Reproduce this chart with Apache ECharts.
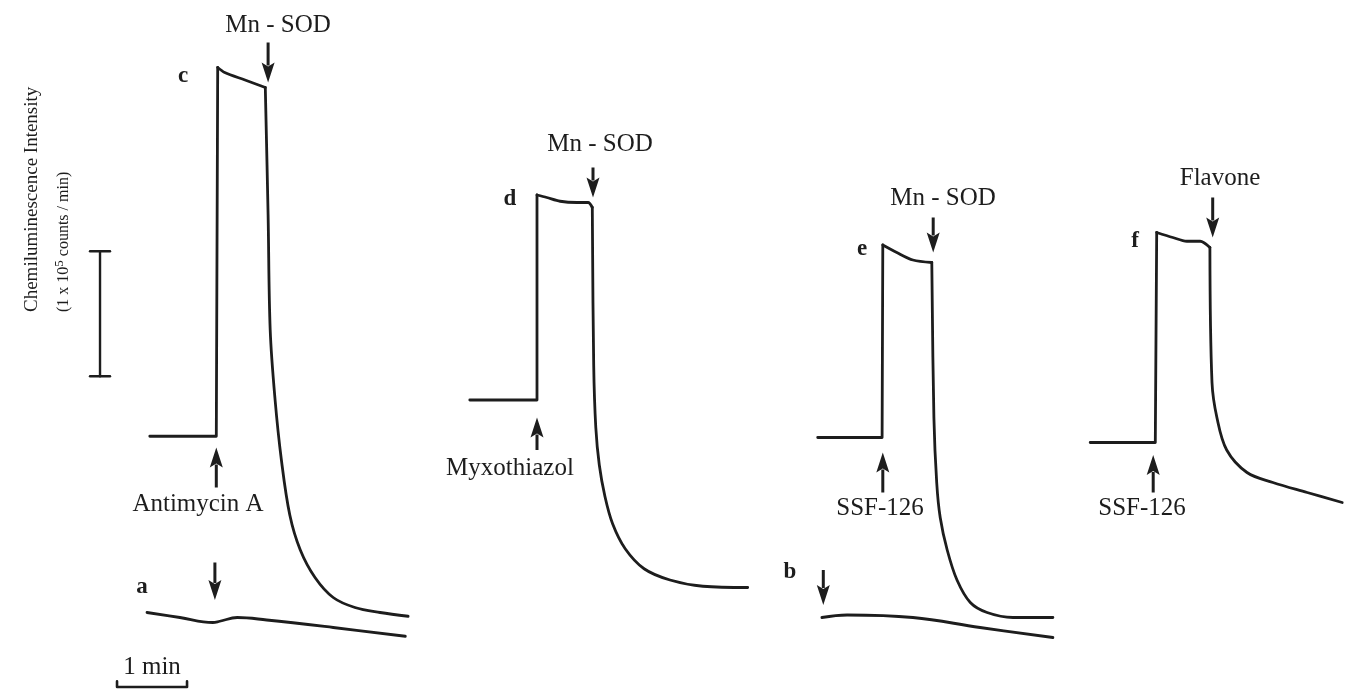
<!DOCTYPE html>
<html><head><meta charset="utf-8">
<script src="https://cdn.jsdelivr.net/npm/echarts@6.0.0/dist/echarts.min.js"></script>
<style>html,body{margin:0;padding:0;background:#fff}#chart{width:1352px;height:693px}</style>
</head><body><div id="chart"></div>
<script>
// ---- DATA (time in min, intensity in 1e5 counts/min, relative offsets per trace) ----
const traceC_time  = [0.14,1.09,1.11,1.21,1.50,1.79,1.83,1.86,1.93,2.02,2.14,2.29,2.50,2.76,3.07,3.43,3.83];
const traceC_value = [2.03,2.03,4.98,4.94,4.88,4.82,3.80,2.88,2.32,1.84,1.40,1.12,0.90,0.74,0.66,0.62,0.59];
const traceA_time  = [0.10,0.57,1.04,1.14,1.39,1.81,2.76,3.79];
const traceA_value = [0.62,0.58,0.54,0.55,0.58,0.56,0.50,0.43];
const traceD_time  = [0.14,1.10,1.10,1.24,1.43,1.67,1.83,1.89,1.91,1.94,1.99,2.07,2.18,2.36,2.63,3.00,3.47,4.11];
const traceD_value = [2.32,2.32,3.96,3.94,3.91,3.90,3.90,3.86,2.60,2.10,1.80,1.55,1.33,1.13,0.97,0.88,0.83,0.82];
const traceE_time  = [0.11,1.03,1.04,1.24,1.47,1.74,1.77,1.81,1.86,1.96,2.10,2.29,2.53,2.90,3.47];
const traceE_value = [2.02,2.02,3.56,3.50,3.44,3.42,2.18,1.66,1.38,1.12,0.88,0.70,0.62,0.58,0.58];
const traceB_time  = [0.17,0.53,1.47,2.43,3.47];
const traceB_value = [0.58,0.60,0.58,0.50,0.42];
const traceF_time  = [0.26,1.19,1.21,1.44,1.64,1.83,1.97,2.00,2.07,2.21,2.50,2.87,3.36,3.86];
const traceF_value = [1.98,1.98,3.66,3.62,3.59,3.59,3.54,2.46,2.18,1.92,1.74,1.66,1.58,1.50];
const traceNames   = ['c','a','d','e','b','f'];
const additionLabels = ['Mn - SOD','Antimycin A','','Mn - SOD','Myxothiazol','Mn - SOD','SSF-126','','Flavone','SSF-126'];
const additionTimes  = [1.83,1.09,1.07,1.90,1.10,1.76,1.04,0.19,2.01,1.16];
const scaleTime = 1;        // 1 min
const scaleIntensity = 1;   // 1 x 10^5 counts/min

// ---- LAYOUT ----
const PX_PER_MIN = 70, PX_PER_UNIT = 125, TOP = 10, H = 680;
const gridLefts  = [80,140,460,810,1072];
const gridWidths = [140,280,315,280,280];
const ink = '#1d1d1d';
const FONT = '"Liberation Serif", "Times New Roman", serif';

const grids = gridLefts.map((l,i)=>({left:l, top:TOP, width:gridWidths[i], height:H}));
const xAxes = grids.map((g,i)=>({type:'value', gridIndex:i, min:0, max:gridWidths[i]/PX_PER_MIN, show:false}));
const yAxes = grids.map((g,i)=>({type:'value', gridIndex:i, min:0, max:H/PX_PER_UNIT, show:false}));

function zip(t,v){return t.map((x,i)=>[x,v[i]]);}
function lineSeries(data, gi, w, smooth){
  return {type:'line', xAxisIndex:gi, yAxisIndex:gi, data, showSymbol:false, symbol:'none', smooth:smooth||false,
    lineStyle:{color:ink, width:w||2.8, cap:'round', join:'round'}, animation:false, silent:true};
}
// split each trace into straight step part, smooth plateau and smooth decay (break indices are layout)
const traces = [
  {d:zip(traceC_time,traceC_value), g:1, brk:[2,5]},
  {d:zip(traceA_time,traceA_value), g:1, brk:null},
  {d:zip(traceD_time,traceD_value), g:2, brk:[2,7]},
  {d:zip(traceE_time,traceE_value), g:3, brk:[2,5]},
  {d:zip(traceB_time,traceB_value), g:3, brk:null},
  {d:zip(traceF_time,traceF_value), g:4, brk:[2,6]},
];
const series = [];
traces.forEach(tr=>{
  if(!tr.brk){ series.push(lineSeries(tr.d,tr.g,2.8,0.4)); return; }
  const [a,b] = tr.brk;
  series.push(lineSeries(tr.d.slice(0,a+1),tr.g,2.8,false));
  series.push(lineSeries(tr.d.slice(a,b+1),tr.g,2.8,0.3));
  series.push(lineSeries(tr.d.slice(b),tr.g,2.8,0.35));
});
// scale bars (grid 0)
const vbX = 0.286, vb0 = 2.51, cap = 0.143;
series.push(lineSeries([[vbX,vb0],[vbX,vb0+scaleIntensity]],0,2.4));
series.push(lineSeries([[vbX-cap,vb0],[vbX+cap,vb0]],0,2.4));
series.push(lineSeries([[vbX-cap,vb0+scaleIntensity],[vbX+cap,vb0+scaleIntensity]],0,2.4));
const hb0 = 0.529, hbY = 0.024;
series.push(lineSeries([[hb0,hbY+0.045],[hb0,hbY],[hb0+scaleTime,hbY],[hb0+scaleTime,hbY+0.045]],0,2.6));

const chart = echarts.init(document.getElementById('chart'), null, {renderer:'canvas'});
chart.setOption({backgroundColor:'#fff', animation:false, grid:grids, xAxis:xAxes, yAxis:yAxes, series});

// annotation arrows: [grid, additionIndex, tipValue, tailValue]
const arrowDefs = [[1,0,4.86,5.18],[1,1,1.94,1.62],[1,2,0.72,1.02],[2,3,3.94,4.18],[2,4,2.18,1.92],
                   [3,5,3.50,3.78],[3,6,1.90,1.58],[3,7,0.68,0.96],[4,8,3.62,3.94],[4,9,1.88,1.58]];
const graphics = [];
arrowDefs.forEach(([gi,ai,tip,tail])=>{
  const t = additionTimes[ai];
  const p1 = chart.convertToPixel({gridIndex:gi},[t,tail]);
  const p2 = chart.convertToPixel({gridIndex:gi},[t,tip]);
  const dir = Math.sign(p2[1]-p1[1]);
  const headL = 19, headW = 6.5;
  const hb = p2[1]-dir*headL;
  graphics.push({type:'line', shape:{x1:p1[0],y1:p1[1],x2:p1[0],y2:hb+dir*2}, style:{stroke:ink, lineWidth:3}, silent:true});
  graphics.push({type:'polygon', shape:{points:[[p2[0],p2[1]],[p2[0]-headW,hb-dir*1],[p2[0],hb+dir*3],[p2[0]+headW,hb-dir*1]]}, style:{fill:ink}, silent:true});
});
function txt(x,y,text,font){
  return {type:'text', x, y, silent:true, style:{text, font:font, fill:ink,
     textAlign:'center', textVerticalAlign:'middle', align:'center', verticalAlign:'middle'}};
}
const LF = '25px '+FONT;
graphics.push(txt(278,25,additionLabels[0],LF));
graphics.push(txt(198,504,additionLabels[1],LF));
graphics.push(txt(600,144,additionLabels[3],LF));
graphics.push(txt(510,468,additionLabels[4],LF));
graphics.push(txt(943,198,additionLabels[5],LF));
graphics.push(txt(880,508,additionLabels[6],LF));
graphics.push(txt(1220,178,additionLabels[8],LF));
graphics.push(txt(1142,508,additionLabels[9],LF));
graphics.push(txt(152,667,'1 min',LF));
// trace letters
const letterPos = [[183,76],[142,587],[510,199],[862,249],[790,572],[1135,241]];
traceNames.forEach((n,i)=>graphics.push(txt(letterPos[i][0],letterPos[i][1],n,'bold 23px '+FONT)));
// y title
graphics.push({type:'text', x:32, y:312, rotation:Math.PI/2, silent:true,
  style:{text:'Chemiluminescence Intensity', font:'19px '+FONT, fill:ink, textAlign:'left', align:'left', textVerticalAlign:'middle', verticalAlign:'middle'}});
graphics.push({type:'text', x:64, y:312, rotation:Math.PI/2, silent:true,
  style:{text:'(1 x 10{sup|5} counts / min)', font:'16px '+FONT, fill:ink, textAlign:'left', align:'left', textVerticalAlign:'middle', verticalAlign:'middle',
    rich:{sup:{font:'13px '+FONT, fill:ink, padding:[0,0,8,0]}}}});
chart.setOption({graphic:graphics});
</script></body></html>
